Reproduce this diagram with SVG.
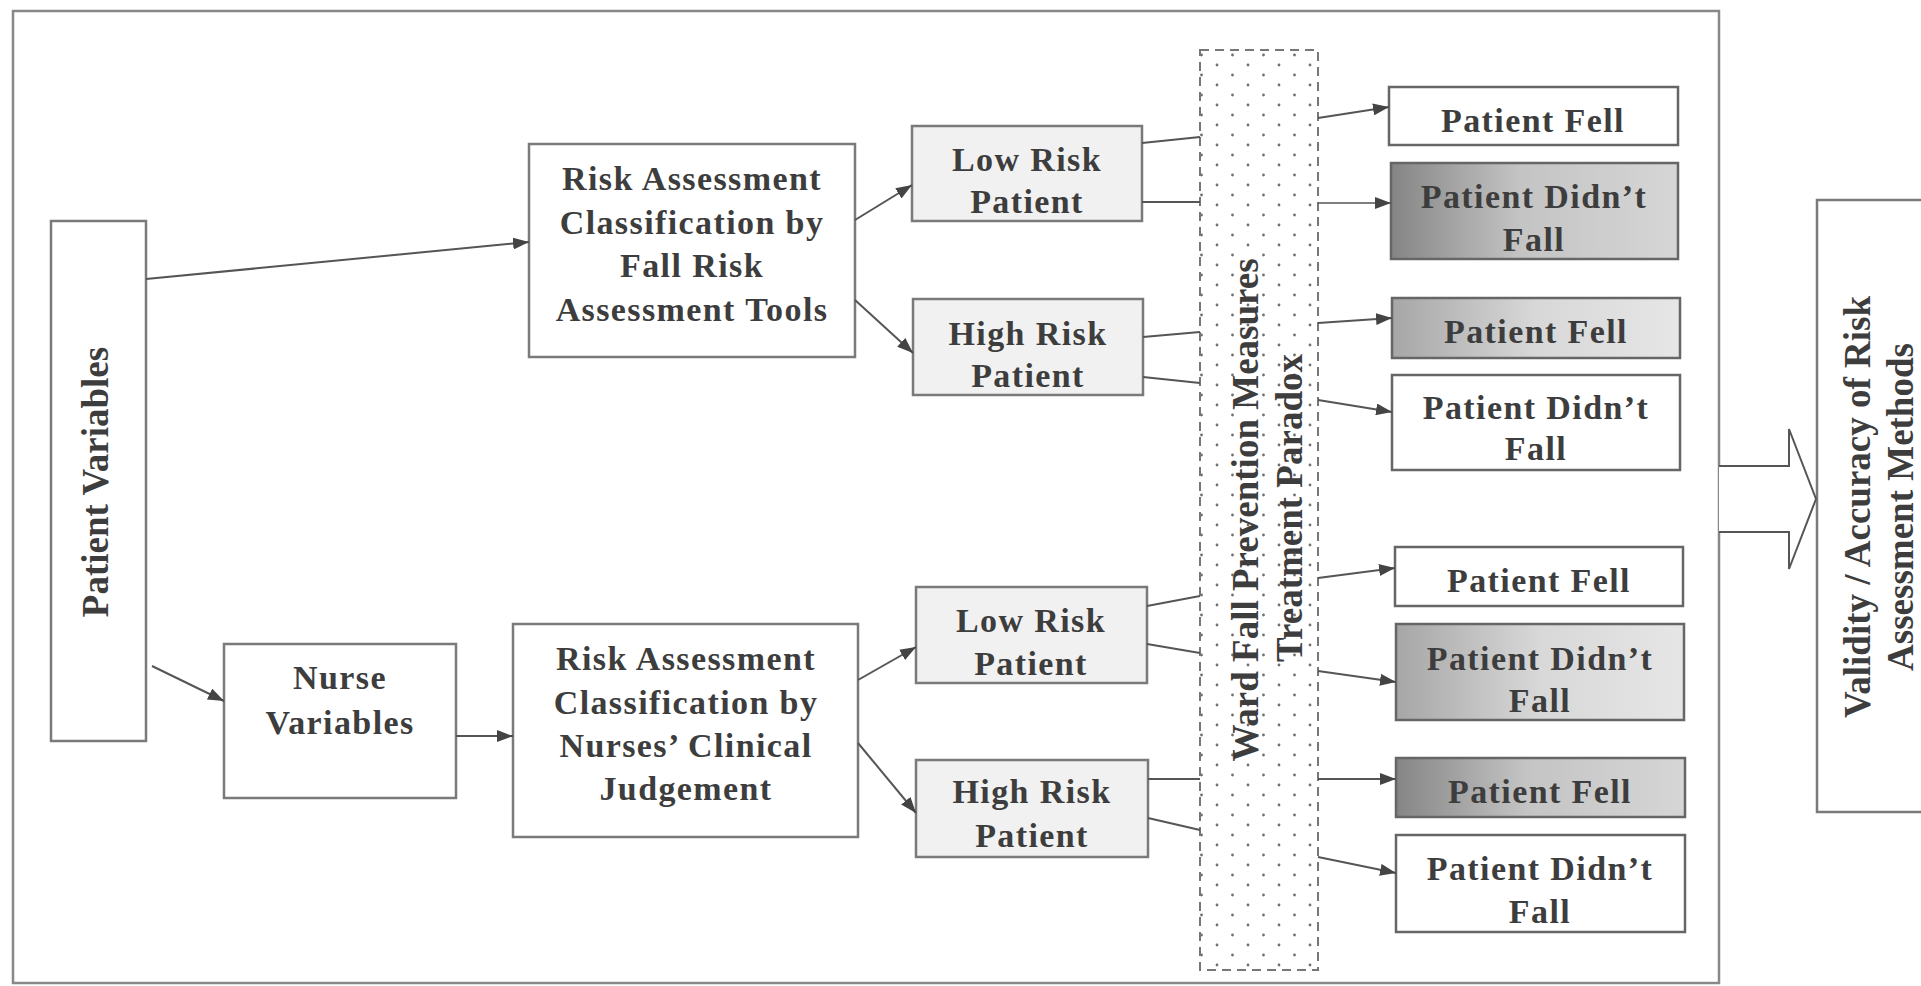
<svg xmlns="http://www.w3.org/2000/svg" width="1921" height="986" viewBox="0 0 1921 986">
<style>
.box{fill:#fff;stroke:#7a7a7a;stroke-width:2.5}
.lite{fill:#f1f1f1;stroke:#7a7a7a;stroke-width:2.5}
.obox{stroke:#666;stroke-width:2.5}
.lbl{font-family:"Liberation Serif","Times New Roman",serif;font-weight:bold;font-size:34px;letter-spacing:1.4px;fill:#3d3d3d;text-anchor:middle}
.vlbl{font-family:"Liberation Serif","Times New Roman",serif;font-weight:bold;font-size:37px;fill:#3d3d3d;text-anchor:middle}
.conn{stroke:#555;stroke-width:2;fill:none}
.arr{marker-end:url(#ah)}
</style>
<defs>
<marker id="ah" viewBox="0 0 16 12" refX="16" refY="6" markerWidth="16" markerHeight="12" markerUnits="userSpaceOnUse" orient="auto">
<path d="M0,0 L16,6 L0,12 z" fill="#444"/>
</marker>
<pattern id="dots" width="31" height="20" patternUnits="userSpaceOnUse">
<circle cx="8" cy="5" r="1.4" fill="#6f6f6f"/>
<circle cx="23.5" cy="15" r="1.4" fill="#6f6f6f"/>
</pattern>
<linearGradient id="gDark" x1="0" y1="0" x2="1" y2="0">
<stop offset="0" stop-color="#858585"/>
<stop offset="0.45" stop-color="#c4c4c4"/>
<stop offset="1" stop-color="#d6d6d6"/>
</linearGradient>
<linearGradient id="gMed" x1="0" y1="0" x2="1" y2="0">
<stop offset="0" stop-color="#a6a6a6"/>
<stop offset="0.5" stop-color="#d8d8d8"/>
<stop offset="1" stop-color="#e6e6e6"/>
</linearGradient>
</defs>
<rect x="0" y="0" width="1921" height="986" fill="#fff"/>
<g id="frame">
<rect x="13" y="11" width="1706" height="972" fill="none" stroke="#888" stroke-width="2.5"/>
</g>
<g id="ward-column">
<rect x="1200" y="50" width="118" height="920" fill="url(#dots)" stroke="#777" stroke-width="2" stroke-dasharray="9 6"/>
<text class="vlbl" style="font-size:37px" transform="translate(1258,510) rotate(-90)">Ward Fall Prevention Measures</text>
<text class="vlbl" style="font-size:37px" transform="translate(1302,508) rotate(-90)">Treatment Paradox</text>
</g>
<g id="patient-variables">
<rect class="box" x="51" y="221" width="95" height="520"/>
<text class="vlbl" transform="translate(108,482) rotate(-90)">Patient Variables</text>
</g>
<g id="ra-tools">
<rect class="box" x="529" y="144" width="326" height="213"/>
<text class="lbl" x="692" y="190">Risk Assessment</text>
<text class="lbl" x="692" y="233.5">Classification by</text>
<text class="lbl" x="692" y="277">Fall Risk</text>
<text class="lbl" x="692" y="320.5">Assessment Tools</text>
</g>
<g id="low-risk-1">
<rect class="lite" x="912" y="126" width="230" height="95"/>
<text class="lbl" x="1027" y="171">Low Risk</text>
<text class="lbl" x="1027" y="213">Patient</text>
</g>
<g id="high-risk-1">
<rect class="lite" x="913" y="299" width="230" height="96"/>
<text class="lbl" x="1028" y="345">High Risk</text>
<text class="lbl" x="1028" y="387">Patient</text>
</g>
<g id="nurse-variables">
<rect class="box" x="224" y="644" width="232" height="154"/>
<text class="lbl" x="340" y="689">Nurse</text>
<text class="lbl" x="340" y="734">Variables</text>
</g>
<g id="ra-nurses">
<rect class="box" x="513" y="624" width="345" height="213"/>
<text class="lbl" x="686" y="670">Risk Assessment</text>
<text class="lbl" x="686" y="714">Classification by</text>
<text class="lbl" x="686" y="757">Nurses’ Clinical</text>
<text class="lbl" x="686" y="800">Judgement</text>
</g>
<g id="low-risk-2">
<rect class="lite" x="916" y="587" width="231" height="96"/>
<text class="lbl" x="1031" y="632">Low Risk</text>
<text class="lbl" x="1031" y="675">Patient</text>
</g>
<g id="high-risk-2">
<rect class="lite" x="916" y="760" width="232" height="97"/>
<text class="lbl" x="1032" y="803">High Risk</text>
<text class="lbl" x="1032" y="847">Patient</text>
</g>
<g id="out-a">
<rect class="obox" fill="#fff" x="1389" y="87" width="289" height="58"/>
<text class="lbl" x="1533" y="132">Patient Fell</text>
</g>
<g id="out-b">
<rect class="obox" fill="url(#gDark)" x="1391" y="163" width="287" height="96"/>
<text class="lbl" x="1534" y="208">Patient Didn’t</text>
<text class="lbl" x="1534" y="251">Fall</text>
</g>
<g id="out-c">
<rect class="obox" fill="url(#gMed)" x="1392" y="298" width="288" height="60"/>
<text class="lbl" x="1536" y="343">Patient Fell</text>
</g>
<g id="out-d">
<rect class="obox" fill="#fff" x="1392" y="375" width="288" height="95"/>
<text class="lbl" x="1536" y="419">Patient Didn’t</text>
<text class="lbl" x="1536" y="460">Fall</text>
</g>
<g id="out-e">
<rect class="obox" fill="#fff" x="1395" y="547" width="288" height="59"/>
<text class="lbl" x="1539" y="592">Patient Fell</text>
</g>
<g id="out-f">
<rect class="obox" fill="url(#gMed)" x="1396" y="624" width="288" height="96"/>
<text class="lbl" x="1540" y="670">Patient Didn’t</text>
<text class="lbl" x="1540" y="712">Fall</text>
</g>
<g id="out-g">
<rect class="obox" fill="url(#gDark)" x="1396" y="758" width="289" height="59"/>
<text class="lbl" x="1540" y="803">Patient Fell</text>
</g>
<g id="out-h">
<rect class="obox" fill="#fff" x="1396" y="835" width="289" height="97"/>
<text class="lbl" x="1540" y="880">Patient Didn’t</text>
<text class="lbl" x="1540" y="923">Fall</text>
</g>
<g id="validity">
<rect class="box" x="1817" y="200" width="130" height="612"/>
<text class="vlbl" transform="translate(1870,507) rotate(-90)">Validity / Accuracy of Risk</text>
<text class="vlbl" transform="translate(1913,507) rotate(-90)">Assessment Methods</text>
</g>
<g id="connectors">
<line class="conn arr" x1="146" y1="279" x2="529" y2="242"/>
<line class="conn arr" x1="152" y1="666" x2="224" y2="701"/>
<line class="conn arr" x1="456" y1="736" x2="513" y2="736"/>
<line class="conn arr" x1="855" y1="220" x2="912" y2="185"/>
<line class="conn arr" x1="855" y1="300" x2="913" y2="353"/>
<line class="conn arr" x1="858" y1="680" x2="916" y2="647"/>
<line class="conn arr" x1="858" y1="743" x2="916" y2="813"/>
<line class="conn" x1="1142" y1="143" x2="1200" y2="137"/>
<line class="conn" x1="1142" y1="202" x2="1200" y2="202"/>
<line class="conn" x1="1143" y1="337" x2="1200" y2="332"/>
<line class="conn" x1="1143" y1="377" x2="1200" y2="383"/>
<line class="conn" x1="1147" y1="606" x2="1200" y2="596"/>
<line class="conn" x1="1147" y1="644" x2="1200" y2="653"/>
<line class="conn" x1="1148" y1="779" x2="1200" y2="779"/>
<line class="conn" x1="1148" y1="818" x2="1200" y2="830"/>
<line class="conn arr" x1="1318" y1="118" x2="1389" y2="107"/>
<line class="conn arr" x1="1318" y1="203" x2="1391" y2="203" style="stroke-width:1.5"/>
<line class="conn arr" x1="1318" y1="323" x2="1392" y2="318"/>
<line class="conn arr" x1="1318" y1="400" x2="1392" y2="412"/>
<line class="conn arr" x1="1318" y1="578" x2="1395" y2="568"/>
<line class="conn arr" x1="1318" y1="671" x2="1396" y2="682"/>
<line class="conn arr" x1="1318" y1="779" x2="1396" y2="779"/>
<line class="conn arr" x1="1318" y1="857" x2="1396" y2="873"/>
<polyline points="1719,466 1789,466 1789,429 1816,499 1789,569 1789,532 1719,532" fill="#fff" stroke="#555" stroke-width="2"/>
</g>
</svg>
